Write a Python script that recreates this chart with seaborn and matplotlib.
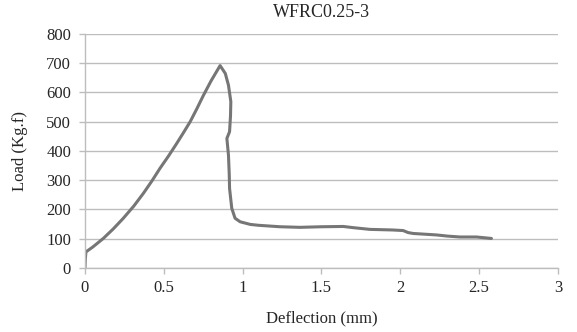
"""Load-deflection curve for specimen WFRC0.25-3."""

import matplotlib

matplotlib.use("Agg")
import matplotlib.pyplot as plt
import pandas as pd
import seaborn as sns

TITLE = "WFRC0.25-3"

deflection_mm = [
    0.0, 0.002, 0.006, 0.05, 0.116, 0.18, 0.243, 0.31, 0.37, 0.425, 0.476,
    0.53, 0.582, 0.625, 0.667, 0.71, 0.751, 0.80, 0.857, 0.89, 0.91, 0.925,
    0.923, 0.917, 0.9, 0.91, 0.915, 0.917, 0.931, 0.952, 0.984, 1.048, 1.10,
    1.237, 1.363, 1.50, 1.638, 1.70, 1.807, 1.95, 2.018, 2.05, 2.082, 2.23,
    2.30, 2.378, 2.483, 2.578,
]
load_kgf = [
    0, 30, 55, 72, 101, 134, 170, 212, 255, 298, 341,
    383, 426, 463, 500, 545, 590, 640, 692, 665, 625, 569,
    520, 466, 443, 386, 320, 272, 204, 170, 158, 149, 146,
    141, 139, 141, 142, 138, 132, 130, 128, 121, 118, 113,
    109, 106, 106, 101,
]

x_ticks = [0, 0.5, 1, 1.5, 2, 2.5, 3]
x_tick_labels = ["0", "0.5", "1", "1.5", "2", "2.5", "3"]
y_ticks = [0, 100, 200, 300, 400, 500, 600, 700, 800]

GRID = "#bdbdbd"
LINE = "#767676"


def main() -> None:
    sns.set_theme(style="white")
    plt.rcParams["font.family"] = ["Liberation Serif", "DejaVu Serif"]
    plt.rcParams["font.size"] = 12

    df = pd.DataFrame({"Deflection": deflection_mm, "Load": load_kgf})

    fig = plt.figure(figsize=(5.77, 3.32), dpi=100)
    ax = fig.add_axes([0.1473, 0.1928, 0.967 - 0.1473, 0.8976 - 0.1928])

    sns.lineplot(
        data=df, x="Deflection", y="Load", sort=False, estimator=None,
        color=LINE, linewidth=2.2, ax=ax,
    )

    ax.set_xlim(0, 3)
    ax.set_ylim(0, 800)
    ax.set_xticks(x_ticks)
    ax.set_xticklabels(x_tick_labels)
    ax.set_yticks(y_ticks)
    ax.yaxis.grid(True, color=GRID, linewidth=1.0)
    ax.xaxis.grid(False)
    ax.set_axisbelow(True)

    for side in ("top", "right"):
        ax.spines[side].set_visible(False)
    for side in ("left", "bottom"):
        ax.spines[side].set_color(GRID)
        ax.spines[side].set_linewidth(1.0)

    ax.tick_params(axis="x", direction="out", length=4, width=1.0, color=GRID,
                   labelsize=12, pad=5, bottom=True)
    ax.tick_params(axis="y", direction="out", length=4, width=1.0, color=GRID,
                   labelsize=12, pad=6, left=True)

    ax.set_title(TITLE, fontsize=13, pad=12)
    ax.set_xlabel("Deflection (mm)", fontsize=12, labelpad=10)
    ax.set_ylabel("Load (Kg.f)", fontsize=12, labelpad=13)

    fig.savefig("out.png", dpi=100)
    plt.close(fig)


if __name__ == "__main__":
    main()
